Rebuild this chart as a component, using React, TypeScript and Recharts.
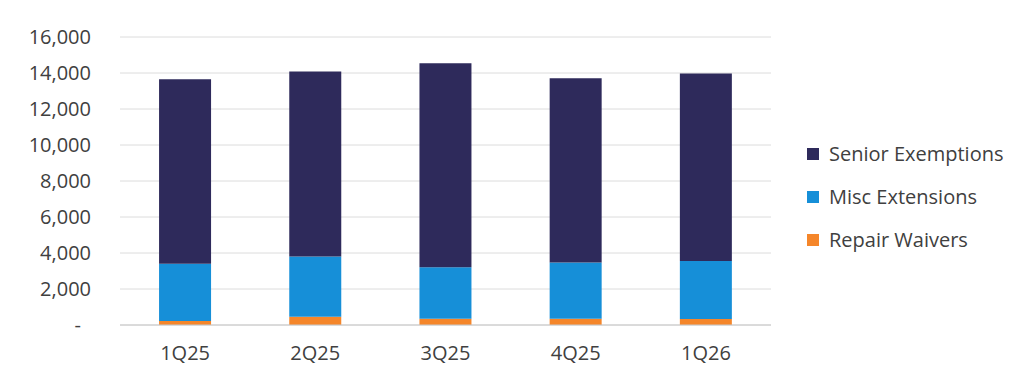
import { BarChart, Bar, XAxis, YAxis, CartesianGrid } from "recharts";

const quarters = ["1Q25", "2Q25", "3Q25", "4Q25", "1Q26"];
const repairWaivers = [220, 460, 350, 350, 330];
const miscExtensions = [3180, 3340, 2860, 3120, 3230];
const seniorExemptions = [10250, 10280, 11330, 10240, 10410];
const yTicks = [0, 2000, 4000, 6000, 8000, 10000, 12000, 14000, 16000];

const FONT = "'Open Sans', sans-serif";
const TEXT = "#404040";

// stack order bottom -> top
const series = [
  { key: "repair", name: "Repair Waivers", color: "#f5862a" },
  { key: "misc", name: "Misc Extensions", color: "#168fd8" },
  { key: "senior", name: "Senior Exemptions", color: "#2e2a5b" },
];

const data = quarters.map((q, i) => ({
  quarter: q,
  repair: repairWaivers[i],
  misc: miscExtensions[i],
  senior: seniorExemptions[i],
}));

// accounting style: zero shows as a dash, a little in from the right edge
function YTick(props: any) {
  const { x, y, payload } = props;
  const v = payload.value as number;
  return (
    <text
      x={v === 0 ? x - 10 : x}
      y={y}
      dy="0.355em"
      textAnchor="end"
      fill={TEXT}
      fontSize={20}
      fontFamily={FONT}
    >
      {v === 0 ? "-" : v.toLocaleString("en-US")}
    </text>
  );
}

export default function App() {
  return (
    <div style={{ position: "absolute", left: 0, top: 0, width: 1018, height: 383, background: "#fff" }}>
      <BarChart
        width={1018}
        height={383}
        data={data}
        margin={{ top: 37, right: 247, left: 0, bottom: 28 }}
        barCategoryGap="30%"
      >
        <CartesianGrid vertical={false} stroke="#dcdcdc" />
        <XAxis
          dataKey="quarter"
          height={30}
          tickLine={false}
          axisLine={{ stroke: "#c8c8c8" }}
          tickMargin={15}
          tick={{ fill: TEXT, fontSize: 20, fontFamily: FONT }}
        />
        <YAxis
          width={120}
          domain={[0, 16000]}
          ticks={yTicks}
          interval={0}
          axisLine={false}
          tickLine={false}
          tickMargin={23}
          tick={<YTick />}
        />
        {series.map((s) => (
          <Bar
            key={s.key}
            dataKey={s.key}
            name={s.name}
            stackId="a"
            fill={s.color}
            isAnimationActive={false}
          />
        ))}
      </BarChart>
      <div style={{ position: "absolute", left: 807, top: 132, fontFamily: FONT, fontSize: 20, color: TEXT }}>
        {[...series].reverse().map((s) => (
          <div key={s.key} style={{ height: 43, display: "flex", alignItems: "center" }}>
            <span style={{ width: 12, height: 12, background: s.color, marginRight: 10, display: "inline-block" }} />
            <span>{s.name}</span>
          </div>
        ))}
      </div>
    </div>
  );
}
